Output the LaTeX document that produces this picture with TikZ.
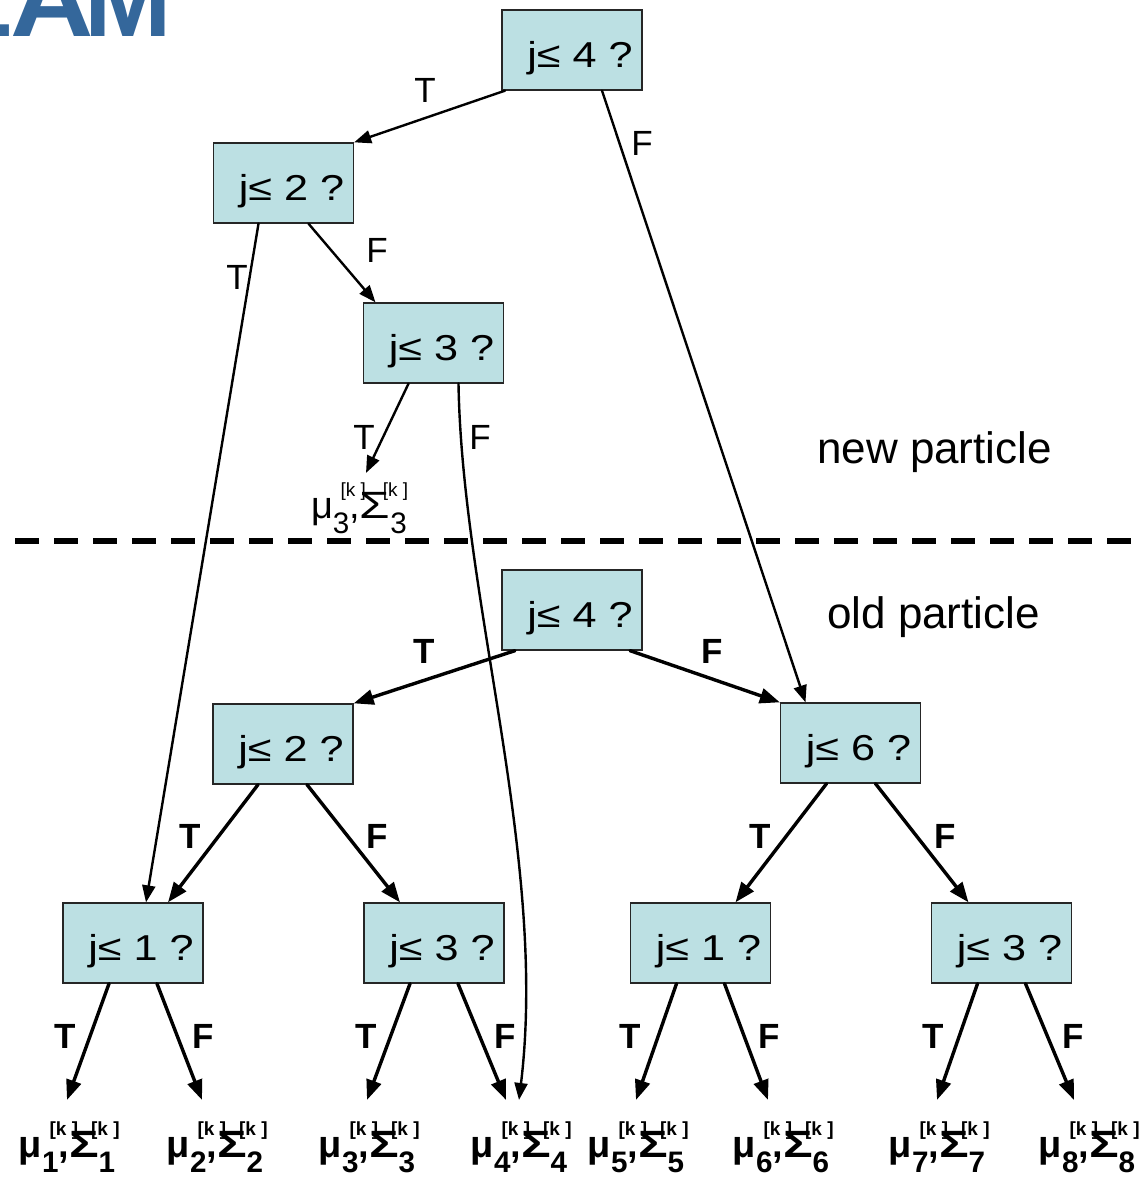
\documentclass[tikz,border=0pt]{standalone}
\usepackage{fontspec}
\usepackage{graphicx}
\setmainfont{Liberation Sans}
\newfontfamily\widefont[FakeStretch=1.2]{Liberation Sans}
\usetikzlibrary{arrows.meta}
\definecolor{bbeeee}{rgb}{0.737,0.878,0.890}
\definecolor{qquuaa}{rgb}{0.204,0.404,0.608}
\newcommand{\cond}[1]{\hspace*{16pt}j≤ #1 ?}
\newcommand{\kidx}[2]{\rlap{\hspace{#2}\raisebox{0.56em}{\scalebox{0.5}{[k ]}}}\raisebox{-0.42em}{\scalebox{0.78}{#1}}}
\newcommand{\leafpar}[1]{μ\kidx{#1}{0.2em},\scalebox{1.3}[1]{Σ}\kidx{#1}{-0.2em}}

\begin{document}
\begin{tikzpicture}[line cap=round,line join=round,x=1pt,y=-1pt,
	cond/.style={draw=black!85,line width=1.3pt,fill=bbeeee,line join=miter,minimum width=140pt,minimum height=80pt,inner sep=0pt,text height=35pt,text depth=0pt,font=\widefont\fontsize{36}{40}\selectfont},
	newedge/.style={-{Triangle[length=17pt,width=13pt]},line width=2.4pt},
	oldedge/.style={-{Triangle[length=20pt,width=15pt]},line width=3.4pt},
	newlab/.style={font=\fontsize{35}{40}\selectfont},
	oldlab/.style={font=\bfseries\fontsize{35}{40}\selectfont},
	leaf/.style={font=\bfseries\fontsize{38}{42}\selectfont,inner sep=0pt,outer ysep=22pt,anchor=base}]
	\useasboundingbox (0,0) rectangle (1143,1177);
	\clip (0,0) rectangle (1143,1177);
	\node[anchor=base east,text=qquuaa,inner sep=0pt,font=\bfseries\fontsize{105}{105}\selectfont] (title) at (172,37) {SL\kern-2pt\scalebox{1.1}[1]{A}\kern-10pt M};
	% new particle
	\node[cond] (top) at (572,50) {\cond{4}};
	\node[cond] (nb) at (283.5,183) {\cond{2}};
	\node[cond] (nc) at (433.5,343) {\cond{3}};
	\node[leaf,font=\fontsize{38}{42}\selectfont,outer ysep=10pt] (n3) at (359,518) {\leafpar{3}};
	\node[anchor=base,font=\fontsize{44}{48}\selectfont] (newtxt) at (934.5,463) {new particle};
	% old particle
	\node[cond] (od) at (572,610) {\cond{4}};
	\node[cond] (oe) at (283,744) {\cond{2}};
	\node[cond] (og) at (850.5,743) {\cond{6}};
	\node[cond] (h1) at (133,943) {\cond{1}};
	\node[cond] (h2) at (434,943) {\cond{3}};
	\node[cond] (h3) at (700.5,943) {\cond{1}};
	\node[cond] (h4) at (1001.5,943) {\cond{3}};
	\node[anchor=base,font=\fontsize{44}{48}\selectfont] (oldtxt) at (933.5,628) {old particle};
	\foreach \i/\x in {1/67,2/215,3/367,4/519,5/636,6/781,7/937,8/1087}
		\node[leaf] (l\i) at (\x,1157) {\leafpar{\i}};
	\draw[line width=6.5pt,line cap=butt,dash pattern=on 24pt off 15pt] (15,541) -- (1133,541);
	% edges of the new particle
	\draw[newedge] ([xshift=-67pt]top.south) -- (nb.north east);
	\draw[newedge] ([xshift=30pt]top.south) -- ([xshift=-45pt]og.north);
	\draw[newedge] ([xshift=-25pt]nb.south) -- ([xshift=13pt]h1.north);
	\draw[newedge] ([xshift=25pt]nb.south) -- ([xshift=-58pt]nc.north);
	\draw[newedge] ([xshift=-25pt]nc.south) -- ([xshift=7pt]n3.north);
	\draw[newedge] ([xshift=25pt]nc.south) .. controls (462,600) and (548,860) .. (l4.north);
	% edges of the old particle
	\draw[oldedge] ([xshift=-57pt]od.south) -- (oe.north east);
	\draw[oldedge] ([xshift=58pt]od.south) -- (og.north west);
	\draw[oldedge] ([xshift=-25pt]oe.south) -- ([xshift=35pt]h1.north);
	\draw[oldedge] ([xshift=24pt]oe.south) -- ([xshift=-34pt]h2.north);
	\draw[oldedge] ([xshift=-24pt]og.south) -- ([xshift=35pt]h3.north);
	\draw[oldedge] ([xshift=25pt]og.south) -- ([xshift=-33pt]h4.north);
	\foreach \h/\a/\b in {h1/l1/l2,h2/l3/l4,h3/l5/l6,h4/l7/l8}{
		\draw[oldedge] ([xshift=-24pt]\h.south) -- (\a.north);
		\draw[oldedge] ([xshift=24pt]\h.south) -- ([xshift=-13pt]\b.north);
	}
	% T / F
	\node[newlab] (ta) at (425,90) {T};
	\node[newlab] (fa) at (642,143) {F};
	\node[newlab] (tb) at (237,277) {T};
	\node[newlab] (fb) at (377,250) {F};
	\node[newlab] (tc) at (364,437) {T};
	\node[newlab] (fc) at (480,437) {F};
	\node[oldlab] (td) at (424,651) {T};
	\node[oldlab] (fd) at (712,651) {F};
	\node[oldlab] (te) at (190,836) {T};
	\node[oldlab] (fe) at (377,836) {F};
	\node[oldlab] (tg) at (760,836) {T};
	\node[oldlab] (fg) at (945,836) {F};
	\foreach \x/\c in {65/T,203/F,366/T,505/F,630/T,769/F,933/T,1073/F}
		\node[oldlab] (lab\x) at (\x,1036) {\c};
\end{tikzpicture}
\end{document}
